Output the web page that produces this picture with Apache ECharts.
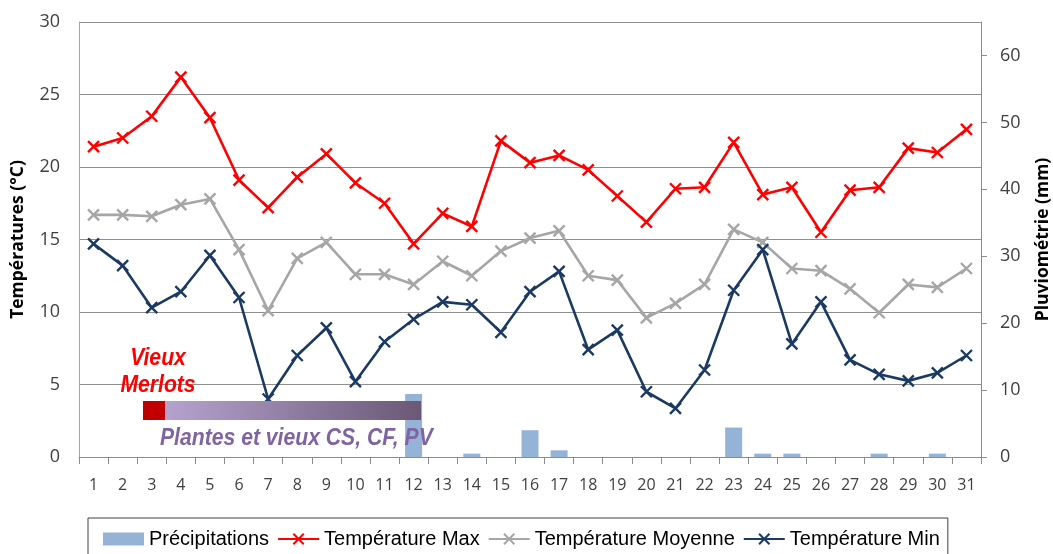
<!DOCTYPE html>
<html>
<head>
<meta charset="utf-8">
<script src="https://cdn.jsdelivr.net/npm/echarts@6/dist/echarts.min.js"></script>
<style>
html,body{margin:0;padding:0;background:#fff;}
#chart{width:1053px;height:554px;}
</style>
</head>
<body>
<div id="chart"></div>
<script>
const days = ['1','2','3','4','5','6','7','8','9','10','11','12','13','14','15','16','17','18','19','20','21','22','23','24','25','26','27','28','29','30','31'];
const precipitations = [0,0,0,0,0,0,0,0,0,0,0,9.4,0,0.5,0,4,1,0,0,0,0,0,4.4,0.5,0.5,0,0,0.5,0,0.5,0];
const tMax = [21.4,22.0,23.5,26.2,23.4,19.1,17.2,19.3,20.9,18.9,17.5,14.7,16.8,15.9,21.8,20.3,20.8,19.8,18.0,16.2,18.5,18.6,21.7,18.1,18.6,15.5,18.4,18.6,21.3,21.0,22.6];
const tMoy = [16.7,16.7,16.6,17.4,17.8,14.3,10.1,13.7,14.8,12.6,12.6,11.9,13.5,12.5,14.2,15.1,15.6,12.5,12.2,9.6,10.6,11.9,15.7,14.8,13.0,12.85,11.6,9.95,11.9,11.7,13.0];
const tMin = [14.7,13.2,10.3,11.4,13.9,11.0,4.0,7.0,8.9,5.2,7.95,9.5,10.7,10.5,8.6,11.4,12.8,7.4,8.75,4.5,3.35,6.0,11.5,14.3,7.8,10.7,6.7,5.7,5.25,5.8,7.0];
const rightTicks = [0,10,20,30,40,50,60];

const chart = echarts.init(document.getElementById('chart'), null, {renderer:'canvas'});
const xSym = 'path://M0,0L10,10M0,10L10,0';
const tickFont = {fontFamily:'Open Sans', fontSize:18, color:'#404040'};
const annFont = 'italic bold 23px "Liberation Sans", Arial, sans-serif';
function lineSeries(name, data, color){
  return {
    name: name, type:'line', yAxisIndex:0, data:data,
    symbol: xSym, symbolSize: 11, symbolKeepAspect:true, showSymbol:true,
    lineStyle:{color:color, width:2.6},
    itemStyle:{color:color, borderColor:color, borderWidth:2.4},
    z: 3
  };
}
chart.setOption({
  animation:false,
  backgroundColor:'#fff',
  grid:{left:79, right:72, top:22, bottom:97, containLabel:false, outerBoundsMode:'none'},
  legend:{
    left:88, top:518,
    data:[{name:'Précipitations', icon:'rect'}, 'Température Max', 'Température Moyenne', 'Température Min'],
    itemWidth:41, itemHeight:13, itemGap:8,
    padding:[11,8,12,15],
    borderColor:'#404040', borderWidth:1, borderRadius:0,
    textStyle:{fontFamily:'Liberation Sans, Arial, sans-serif', fontSize:20, color:'#000'}
  },
  xAxis:{
    type:'category', data:days, boundaryGap:true,
    axisLine:{show:true, lineStyle:{color:'#8c8c8c', width:1}},
    axisTick:{show:true, interval:0, length:7, lineStyle:{color:'#8c8c8c'}},
    axisLabel:{interval:0, margin:20, fontFamily:'Open Sans', fontSize:16, color:'#404040'},
    splitLine:{show:false}
  },
  yAxis:[{
    type:'value', min:0, max:30, interval:5, position:'left',
    name:'Températures (°C)', nameLocation:'middle', nameRotate:90, nameGap:52,
    nameTextStyle:{fontFamily:'Open Sans', fontWeight:'bold', fontSize:17.5, color:'#000'},
    axisLine:{show:true, lineStyle:{color:'#a6a6a6'}},
    axisTick:{show:false},
    axisLabel:Object.assign({margin:19}, tickFont),
    splitLine:{show:true, lineStyle:{color:'#8f8f8f', width:1}}
  },{
    type:'value', min:0, max:65, interval:10, position:'right',
    name:'Pluviométrie (mm)', nameLocation:'middle', nameRotate:90, nameGap:53,
    nameTextStyle:{fontFamily:'Open Sans', fontWeight:'bold', fontSize:17.5, color:'#000'},
    axisLine:{show:true, lineStyle:{color:'#8c8c8c'}},
    axisTick:{show:true, length:6, inside:false, customValues:rightTicks, lineStyle:{color:'#8c8c8c'}},
    axisLabel:Object.assign({margin:19, customValues:rightTicks}, tickFont),
    splitLine:{show:false}
  }],
  series:[
    {name:'Précipitations', type:'bar', yAxisIndex:1, data:precipitations, barWidth:17,
     itemStyle:{color:'#95b3d7'}, z:2},
    lineSeries('Température Max', tMax, '#ff0000'),
    lineSeries('Température Moyenne', tMoy, '#a6a6a6'),
    lineSeries('Température Min', tMin, '#1b3a63')
  ],
  graphic:[
    {type:'text', x:158, y:345, scaleX:0.92, z:100,
     style:{text:'Vieux\nMerlots', fill:'#ff0000', align:'center', font:annFont, lineHeight:27}},
    {type:'rect', left:143, top:401, z:100, shape:{width:22, height:19}, style:{fill:'#c00000'}},
    {type:'rect', left:165, top:401, z:100, shape:{width:256, height:19},
     style:{fill:new echarts.graphic.LinearGradient(0,0,1,0,[{offset:0,color:'#b5a3cf'},{offset:1,color:'#6a5875'}])}},
    {type:'text', x:160, y:427, scaleX:0.92, z:100,
     style:{text:'Plantes et vieux CS, CF, PV', fill:'#8064a2', font:annFont}}
  ]
});
</script>
</body>
</html>
